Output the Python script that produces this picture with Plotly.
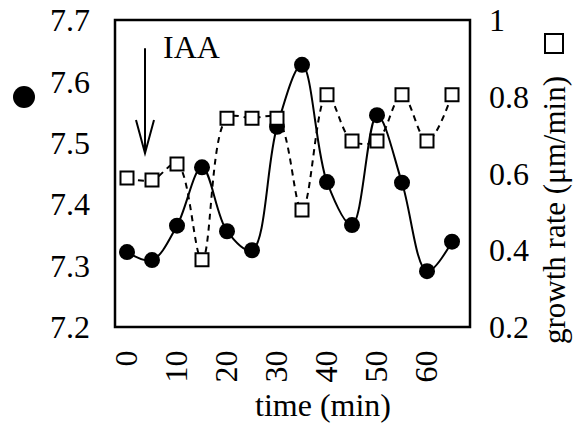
import plotly.graph_objects as go

# data
time_min = [0, 5, 10, 15, 20, 25, 30, 35, 40, 45, 50, 55, 60, 65]
ph_values = [7.322, 7.309, 7.365, 7.460, 7.356, 7.325, 7.526, 7.627, 7.436, 7.366, 7.545, 7.435, 7.291, 7.339]
growth_rate = [0.588, 0.583, 0.625, 0.375, 0.744, 0.744, 0.744, 0.505, 0.805, 0.685, 0.685, 0.805, 0.685, 0.805]
x_ticks = [0, 10, 20, 30, 40, 50, 60]
y_left_ticks = [7.2, 7.3, 7.4, 7.5, 7.6, 7.7]
y_left_text = ["7.2", "7.3", "7.4", "7.5", "7.6", "7.7"]
y_right_ticks = [0.2, 0.4, 0.6, 0.8, 1.0]
y_right_text = ["0.2", "0.4", "0.6", "0.8", "1"]

FONT = "Liberation Serif, Times New Roman, serif"
FS = 32
W, H = 573, 425
L, R, T, B = 115, 470, 20, 327


def px(x):
    return (x - L) / (R - L)


def py(y):
    return (B - y) / (B - T)


fig = go.Figure()
fig.add_trace(go.Scatter(
    x=time_min, y=ph_values, mode="lines+markers",
    line=dict(color="black", width=2, shape="spline", smoothing=1),
    marker=dict(symbol="circle", size=16, color="black"),
    yaxis="y", showlegend=False))
fig.add_trace(go.Scatter(
    x=time_min, y=growth_rate, mode="lines+markers",
    line=dict(color="black", width=2, dash="6px,5px", shape="spline", smoothing=1),
    marker=dict(symbol="square", size=13, color="white", line=dict(color="black", width=2)),
    yaxis="y2", showlegend=False))

tickfont = dict(family=FONT, size=FS, color="black")
fig.update_layout(
    width=W, height=H,
    margin=dict(l=L, r=W - R, t=T, b=H - B, pad=0, autoexpand=False),
    paper_bgcolor="white", plot_bgcolor="white",
    xaxis=dict(range=[-2.4, 68.6], tickvals=x_ticks, ticktext=[str(v) for v in x_ticks],
               tickangle=-90, tickfont=tickfont, showgrid=False, zeroline=False,
               showline=False, ticks="", ticklabelstandoff=16, automargin=False),
    yaxis=dict(range=[7.2, 7.7], tickvals=y_left_ticks, ticktext=y_left_text,
               tickfont=tickfont, showgrid=False, zeroline=False, showline=False,
               ticks="", ticklabelstandoff=24, automargin=False),
    yaxis2=dict(range=[0.2, 1.0], tickvals=y_right_ticks, ticktext=y_right_text,
                overlaying="y", side="right", tickfont=tickfont, showgrid=False,
                zeroline=False, showline=False, ticks="", ticklabelstandoff=18,
                automargin=False),
    shapes=[
        dict(type="rect", xref="paper", yref="paper", x0=0, x1=1, y0=0, y1=1,
             line=dict(color="black", width=2.5), layer="above"),
        # IAA arrow
        dict(type="line", xref="x", yref="y", x0=3.6, x1=3.6, y0=7.654, y1=7.483,
             line=dict(color="black", width=2)),
        dict(type="path", xref="x", yref="y",
             path="M 1.8,7.537 L 3.6,7.483 L 5.4,7.537",
             line=dict(color="black", width=2)),
        # legend symbols
        dict(type="circle", xref="paper", yref="paper",
             x0=px(13), x1=px(35), y0=py(108), y1=py(86),
             fillcolor="black", line=dict(color="black", width=0)),
        dict(type="rect", xref="paper", yref="paper",
             x0=px(545), x1=px(563), y0=py(53), y1=py(34),
             fillcolor="white", line=dict(color="black", width=2)),
    ],
    annotations=[
        dict(text="IAA", xref="paper", yref="paper", x=px(161), y=py(47),
             xanchor="left", yanchor="middle", showarrow=False,
             font=dict(family=FONT, size=FS, color="black")),
        dict(text="time (min)", xref="paper", yref="paper", x=px(323), y=py(405),
             xanchor="center", yanchor="middle", showarrow=False,
             font=dict(family=FONT, size=FS, color="black")),
        dict(text="growth rate (μm/min)", xref="paper", yref="paper", x=px(554), y=py(210),
             xanchor="center", yanchor="middle", textangle=-90, showarrow=False,
             font=dict(family=FONT, size=31, color="black")),
    ],
)

fig.write_html("out.html")
